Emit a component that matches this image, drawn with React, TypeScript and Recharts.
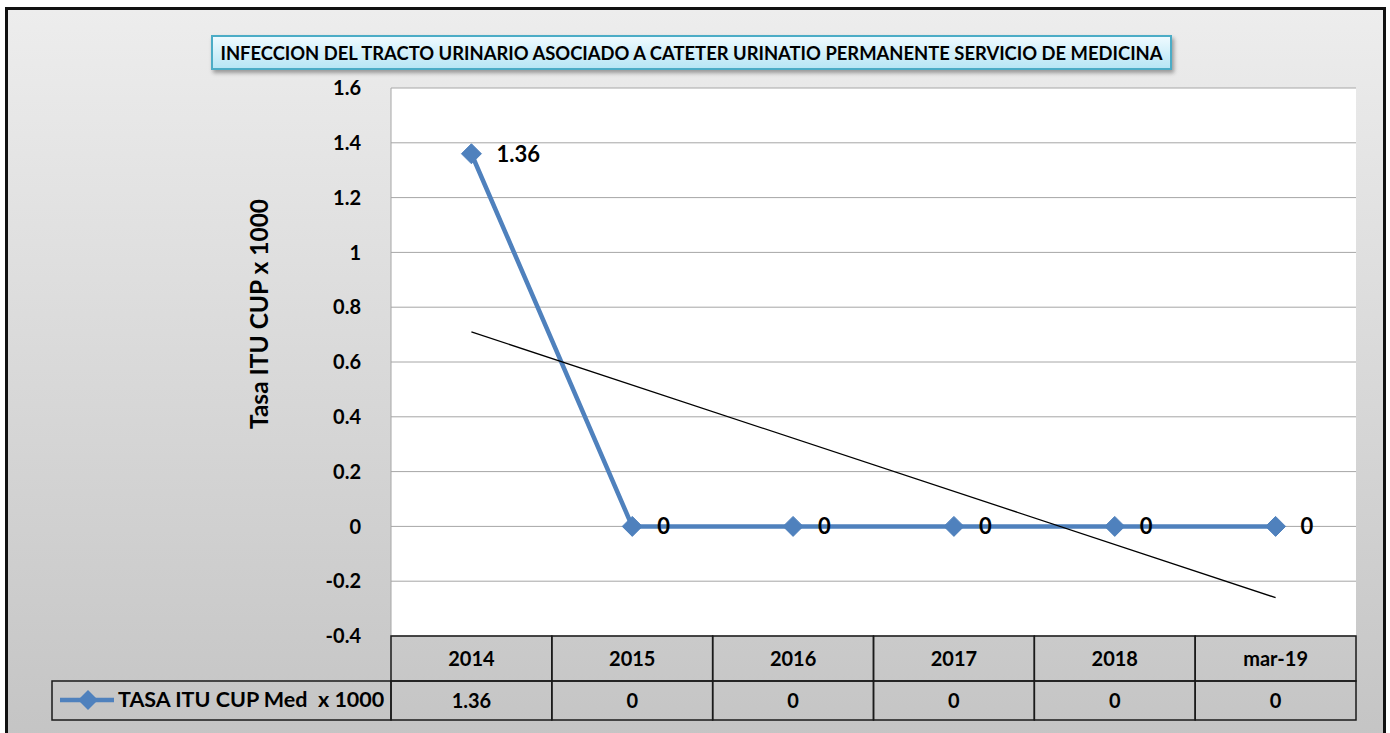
import { ComposedChart, Line, XAxis, YAxis, CartesianGrid, LabelList } from "recharts";

const categories = ["2014", "2015", "2016", "2017", "2018", "mar-19"];
const tasaValues = [1.36, 0, 0, 0, 0, 0];
// linea de tendencia: extremos
const trendValues = [0.71, null, null, null, null, -0.26];
const yTicks = [-0.4, -0.2, 0, 0.2, 0.4, 0.6, 0.8, 1, 1.2, 1.4, 1.6];

const seriesName = "TASA ITU CUP Med  x 1000";
const title =
  "INFECCION DEL TRACTO URINARIO ASOCIADO A CATETER URINATIO PERMANENTE SERVICIO DE MEDICINA";

const data = categories.map((c, i) => ({
  periodo: c,
  tasa: tasaValues[i],
  tendencia: trendValues[i],
}));

const FONT = "Lato, 'Open Sans', sans-serif";
const BLUE = "#4f81bd";
const PLOT_LEFT = 391;
const PLOT_RIGHT = 1356;
const CELL_W = (PLOT_RIGHT - PLOT_LEFT) / categories.length;

function Diamond(props: any) {
  const { cx, cy } = props;
  if (cx == null || cy == null) return null;
  return (
    <polygon
      points={`${cx},${cy - 10} ${cx + 10},${cy} ${cx},${cy + 10} ${cx - 10},${cy}`}
      fill={BLUE}
      stroke={BLUE}
    />
  );
}

function TableTick(props: any) {
  const { x, y, payload, index } = props;
  const left = x - CELL_W / 2;
  const v = tasaValues[index];
  return (
    <g>
      <rect x={left} y={y} width={CELL_W} height={45} fill="none" stroke="#1a1a1a" strokeWidth={1.5} />
      <rect x={left} y={y + 45} width={CELL_W} height={39} fill="none" stroke="#1a1a1a" strokeWidth={1.5} />
      <text x={x} y={y + 30} textAnchor="middle" fontFamily={FONT} fontWeight={700} fontSize={20} fill="#000">
        {payload.value}
      </text>
      <text x={x} y={y + 72} textAnchor="middle" fontFamily={FONT} fontWeight={700} fontSize={20} fill="#000">
        {v}
      </text>
    </g>
  );
}

export default function App() {
  return (
    <div
      style={{
        position: "absolute",
        left: 0,
        top: 0,
        width: 1390,
        height: 733,
        overflow: "hidden",
        background: "#fff",
        fontFamily: FONT,
      }}
    >
      <div
        style={{
          position: "absolute",
          left: 5,
          top: 7,
          width: 1381,
          height: 740,
          boxSizing: "border-box",
          border: "3px solid #111",
          background: "linear-gradient(#ededed, #c4c4c4)",
        }}
      />
      <div
        style={{
          position: "absolute",
          left: 211,
          top: 35,
          width: 961,
          height: 35,
          boxSizing: "border-box",
          border: "2px solid #4bacc6",
          background: "linear-gradient(#eefaff, #b7e6f5)",
          boxShadow: "2px 3px 4px rgba(0,0,0,0.35)",
          display: "flex",
          alignItems: "center",
          justifyContent: "center",
          fontWeight: 700,
          fontSize: 18.4,
          color: "#000",
          whiteSpace: "nowrap",
        }}
      >
        {title}
      </div>
      <div
        style={{
          position: "absolute",
          left: 258,
          top: 314,
          transform: "translate(-50%, -50%) rotate(-90deg)",
          fontWeight: 700,
          fontSize: 24.5,
          whiteSpace: "nowrap",
          color: "#000",
        }}
      >
        Tasa ITU CUP x 1000
      </div>
      <div style={{ position: "absolute", left: 0, top: 0 }}>
        <ComposedChart
          width={1390}
          height={733}
          data={data}
          margin={{ top: 88, right: 1390 - PLOT_RIGHT, bottom: 13, left: PLOT_LEFT - 100 }}
        >
          <CartesianGrid vertical={false} stroke="#a6a6a6" fill="#fff" fillOpacity={1} />
          <XAxis
            dataKey="periodo"
            height={84}
            interval={0}
            padding={{ left: CELL_W / 2, right: CELL_W / 2 }}
            axisLine={false}
            tickLine={false}
            tickSize={0}
            tickMargin={0}
            tick={<TableTick />}
          />
          <YAxis
            width={100}
            domain={[-0.4, 1.6]}
            ticks={yTicks}
            interval={0}
            axisLine={{ stroke: "#a6a6a6" }}
            tickLine={false}
            tickMargin={24}
            tick={{ fill: "#000", fontSize: 20, fontWeight: 700, fontFamily: FONT }}
          />
          <Line
            dataKey="tasa"
            stroke={BLUE}
            strokeWidth={4.5}
            dot={<Diamond />}
            activeDot={false}
            isAnimationActive={false}
          >
            <LabelList
              dataKey="tasa"
              position="right"
              offset={25}
              fill="#000"
              fontSize={22}
              fontWeight={700}
              fontFamily={FONT}
            />
          </Line>
          <Line
            dataKey="tendencia"
            stroke="#000"
            strokeWidth={1.3}
            dot={false}
            activeDot={false}
            connectNulls
            isAnimationActive={false}
          />
        </ComposedChart>
      </div>
      <svg style={{ position: "absolute", left: 0, top: 0 }} width={1390} height={733}>
        <rect x={52} y={681} width={PLOT_LEFT - 52} height={39} fill="none" stroke="#1a1a1a" strokeWidth={1.5} />
        <line x1={60} y1={700} x2={114} y2={700} stroke={BLUE} strokeWidth={4.5} />
        <polygon points="88,690 98,700 88,710 78,700" fill={BLUE} />
        <text
          x={118}
          y={707}
          fontFamily={FONT}
          fontWeight={700}
          fontSize={21.5}
          fill="#000"
          style={{ whiteSpace: "pre" }}
        >
          {seriesName}
        </text>
      </svg>
    </div>
  );
}
